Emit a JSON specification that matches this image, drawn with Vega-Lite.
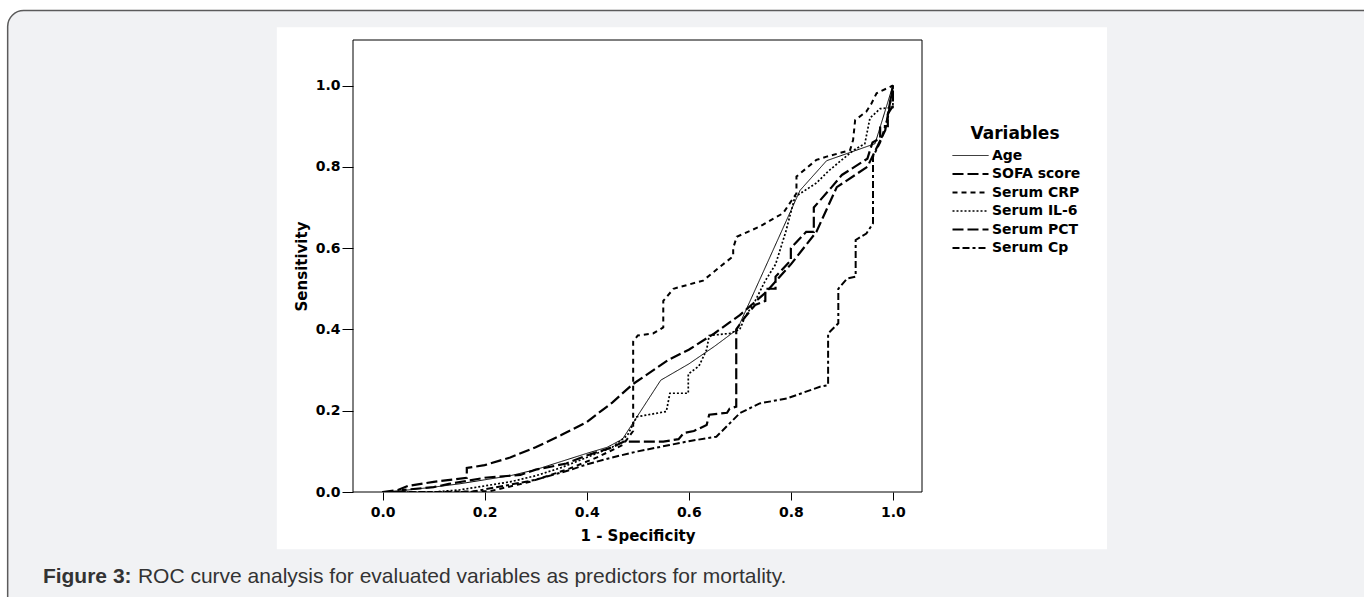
{
  "$schema": "https://vega.github.io/schema/vega-lite/v6.json",
  "width": 569,
  "height": 452,
  "autosize": {"type": "none"},
  "padding": {"left": 353, "top": 40, "right": 442, "bottom": 105},
  "background": "white",
  "config": {"view": {"stroke": null, "fill": null}, "font": "DejaVu Sans"},
  "datasets": {
    "roc": [
      {"variable": "Age", "i": 0, "x": 0, "y": 0},
      {"variable": "Age", "i": 1, "x": 0.05, "y": 0.005},
      {"variable": "Age", "i": 2, "x": 0.1, "y": 0.012},
      {"variable": "Age", "i": 3, "x": 0.15, "y": 0.02},
      {"variable": "Age", "i": 4, "x": 0.2, "y": 0.03},
      {"variable": "Age", "i": 5, "x": 0.25, "y": 0.04},
      {"variable": "Age", "i": 6, "x": 0.3, "y": 0.055},
      {"variable": "Age", "i": 7, "x": 0.35, "y": 0.075},
      {"variable": "Age", "i": 8, "x": 0.4, "y": 0.095},
      {"variable": "Age", "i": 9, "x": 0.44, "y": 0.11},
      {"variable": "Age", "i": 10, "x": 0.47, "y": 0.13},
      {"variable": "Age", "i": 11, "x": 0.545, "y": 0.275},
      {"variable": "Age", "i": 12, "x": 0.6, "y": 0.315},
      {"variable": "Age", "i": 13, "x": 0.65, "y": 0.358},
      {"variable": "Age", "i": 14, "x": 0.695, "y": 0.4},
      {"variable": "Age", "i": 15, "x": 0.818, "y": 0.742},
      {"variable": "Age", "i": 16, "x": 0.87, "y": 0.815},
      {"variable": "Age", "i": 17, "x": 0.965, "y": 0.857},
      {"variable": "Age", "i": 18, "x": 1, "y": 1},

      {"variable": "SOFA score", "i": 0, "x": 0, "y": 0},
      {"variable": "SOFA score", "i": 1, "x": 0.04, "y": 0},
      {"variable": "SOFA score", "i": 2, "x": 0.04, "y": 0.005},
      {"variable": "SOFA score", "i": 3, "x": 0.1, "y": 0.012},
      {"variable": "SOFA score", "i": 4, "x": 0.13, "y": 0.02},
      {"variable": "SOFA score", "i": 5, "x": 0.2, "y": 0.035},
      {"variable": "SOFA score", "i": 6, "x": 0.27, "y": 0.042},
      {"variable": "SOFA score", "i": 7, "x": 0.3, "y": 0.055},
      {"variable": "SOFA score", "i": 8, "x": 0.36, "y": 0.07},
      {"variable": "SOFA score", "i": 9, "x": 0.4, "y": 0.09},
      {"variable": "SOFA score", "i": 10, "x": 0.45, "y": 0.11},
      {"variable": "SOFA score", "i": 11, "x": 0.473, "y": 0.124},
      {"variable": "SOFA score", "i": 12, "x": 0.55, "y": 0.124},
      {"variable": "SOFA score", "i": 13, "x": 0.58, "y": 0.13},
      {"variable": "SOFA score", "i": 14, "x": 0.59, "y": 0.145},
      {"variable": "SOFA score", "i": 15, "x": 0.61, "y": 0.15},
      {"variable": "SOFA score", "i": 16, "x": 0.635, "y": 0.165},
      {"variable": "SOFA score", "i": 17, "x": 0.64, "y": 0.19},
      {"variable": "SOFA score", "i": 18, "x": 0.675, "y": 0.195},
      {"variable": "SOFA score", "i": 19, "x": 0.68, "y": 0.205},
      {"variable": "SOFA score", "i": 20, "x": 0.693, "y": 0.21},
      {"variable": "SOFA score", "i": 21, "x": 0.693, "y": 0.4},
      {"variable": "SOFA score", "i": 22, "x": 0.71, "y": 0.43},
      {"variable": "SOFA score", "i": 23, "x": 0.73, "y": 0.46},
      {"variable": "SOFA score", "i": 24, "x": 0.75, "y": 0.47},
      {"variable": "SOFA score", "i": 25, "x": 0.75, "y": 0.5},
      {"variable": "SOFA score", "i": 26, "x": 0.77, "y": 0.5},
      {"variable": "SOFA score", "i": 27, "x": 0.77, "y": 0.53},
      {"variable": "SOFA score", "i": 28, "x": 0.8, "y": 0.57},
      {"variable": "SOFA score", "i": 29, "x": 0.8, "y": 0.6},
      {"variable": "SOFA score", "i": 30, "x": 0.83, "y": 0.64},
      {"variable": "SOFA score", "i": 31, "x": 0.845, "y": 0.64},
      {"variable": "SOFA score", "i": 32, "x": 0.845, "y": 0.7},
      {"variable": "SOFA score", "i": 33, "x": 0.88, "y": 0.75},
      {"variable": "SOFA score", "i": 34, "x": 0.9, "y": 0.78},
      {"variable": "SOFA score", "i": 35, "x": 0.95, "y": 0.82},
      {"variable": "SOFA score", "i": 36, "x": 0.96, "y": 0.86},
      {"variable": "SOFA score", "i": 37, "x": 0.975, "y": 0.87},
      {"variable": "SOFA score", "i": 38, "x": 0.975, "y": 0.9},
      {"variable": "SOFA score", "i": 39, "x": 0.99, "y": 0.9},
      {"variable": "SOFA score", "i": 40, "x": 0.99, "y": 0.93},
      {"variable": "SOFA score", "i": 41, "x": 1, "y": 0.95},
      {"variable": "SOFA score", "i": 42, "x": 1, "y": 1},

      {"variable": "Serum CRP", "i": 0, "x": 0, "y": 0},
      {"variable": "Serum CRP", "i": 1, "x": 0.1, "y": 0},
      {"variable": "Serum CRP", "i": 2, "x": 0.21, "y": 0.002},
      {"variable": "Serum CRP", "i": 3, "x": 0.289, "y": 0.025},
      {"variable": "Serum CRP", "i": 4, "x": 0.367, "y": 0.058},
      {"variable": "Serum CRP", "i": 5, "x": 0.42, "y": 0.085},
      {"variable": "Serum CRP", "i": 6, "x": 0.471, "y": 0.116},
      {"variable": "Serum CRP", "i": 7, "x": 0.491, "y": 0.15},
      {"variable": "Serum CRP", "i": 8, "x": 0.491, "y": 0.37},
      {"variable": "Serum CRP", "i": 9, "x": 0.5, "y": 0.385},
      {"variable": "Serum CRP", "i": 10, "x": 0.53, "y": 0.39},
      {"variable": "Serum CRP", "i": 11, "x": 0.55, "y": 0.405},
      {"variable": "Serum CRP", "i": 12, "x": 0.55, "y": 0.47},
      {"variable": "Serum CRP", "i": 13, "x": 0.57, "y": 0.5},
      {"variable": "Serum CRP", "i": 14, "x": 0.628, "y": 0.52},
      {"variable": "Serum CRP", "i": 15, "x": 0.661, "y": 0.554},
      {"variable": "Serum CRP", "i": 16, "x": 0.687, "y": 0.58},
      {"variable": "Serum CRP", "i": 17, "x": 0.687, "y": 0.6},
      {"variable": "Serum CRP", "i": 18, "x": 0.694, "y": 0.628},
      {"variable": "Serum CRP", "i": 19, "x": 0.739, "y": 0.653},
      {"variable": "Serum CRP", "i": 20, "x": 0.785, "y": 0.686},
      {"variable": "Serum CRP", "i": 21, "x": 0.811, "y": 0.735},
      {"variable": "Serum CRP", "i": 22, "x": 0.811, "y": 0.776},
      {"variable": "Serum CRP", "i": 23, "x": 0.85, "y": 0.817},
      {"variable": "Serum CRP", "i": 24, "x": 0.87, "y": 0.825},
      {"variable": "Serum CRP", "i": 25, "x": 0.916, "y": 0.841},
      {"variable": "Serum CRP", "i": 26, "x": 0.922, "y": 0.866},
      {"variable": "Serum CRP", "i": 27, "x": 0.926, "y": 0.915},
      {"variable": "Serum CRP", "i": 28, "x": 0.948, "y": 0.936},
      {"variable": "Serum CRP", "i": 29, "x": 0.958, "y": 0.956},
      {"variable": "Serum CRP", "i": 30, "x": 0.968, "y": 0.981},
      {"variable": "Serum CRP", "i": 31, "x": 1, "y": 1},

      {"variable": "Serum IL-6", "i": 0, "x": 0, "y": 0},
      {"variable": "Serum IL-6", "i": 1, "x": 0.1, "y": 0},
      {"variable": "Serum IL-6", "i": 2, "x": 0.15, "y": 0.005},
      {"variable": "Serum IL-6", "i": 3, "x": 0.2, "y": 0.015},
      {"variable": "Serum IL-6", "i": 4, "x": 0.25, "y": 0.025},
      {"variable": "Serum IL-6", "i": 5, "x": 0.3, "y": 0.04},
      {"variable": "Serum IL-6", "i": 6, "x": 0.35, "y": 0.06},
      {"variable": "Serum IL-6", "i": 7, "x": 0.4, "y": 0.085},
      {"variable": "Serum IL-6", "i": 8, "x": 0.45, "y": 0.11},
      {"variable": "Serum IL-6", "i": 9, "x": 0.48, "y": 0.14},
      {"variable": "Serum IL-6", "i": 10, "x": 0.498, "y": 0.185},
      {"variable": "Serum IL-6", "i": 11, "x": 0.556, "y": 0.198},
      {"variable": "Serum IL-6", "i": 12, "x": 0.563, "y": 0.243},
      {"variable": "Serum IL-6", "i": 13, "x": 0.599, "y": 0.243},
      {"variable": "Serum IL-6", "i": 14, "x": 0.599, "y": 0.29},
      {"variable": "Serum IL-6", "i": 15, "x": 0.62, "y": 0.31},
      {"variable": "Serum IL-6", "i": 16, "x": 0.635, "y": 0.35},
      {"variable": "Serum IL-6", "i": 17, "x": 0.64, "y": 0.385},
      {"variable": "Serum IL-6", "i": 18, "x": 0.68, "y": 0.39},
      {"variable": "Serum IL-6", "i": 19, "x": 0.7, "y": 0.4},
      {"variable": "Serum IL-6", "i": 20, "x": 0.71, "y": 0.43},
      {"variable": "Serum IL-6", "i": 21, "x": 0.73, "y": 0.47},
      {"variable": "Serum IL-6", "i": 22, "x": 0.75, "y": 0.52},
      {"variable": "Serum IL-6", "i": 23, "x": 0.77, "y": 0.56},
      {"variable": "Serum IL-6", "i": 24, "x": 0.78, "y": 0.6},
      {"variable": "Serum IL-6", "i": 25, "x": 0.79, "y": 0.64},
      {"variable": "Serum IL-6", "i": 26, "x": 0.808, "y": 0.726},
      {"variable": "Serum IL-6", "i": 27, "x": 0.85, "y": 0.76},
      {"variable": "Serum IL-6", "i": 28, "x": 0.874, "y": 0.79},
      {"variable": "Serum IL-6", "i": 29, "x": 0.922, "y": 0.84},
      {"variable": "Serum IL-6", "i": 30, "x": 0.945, "y": 0.857},
      {"variable": "Serum IL-6", "i": 31, "x": 0.955, "y": 0.92},
      {"variable": "Serum IL-6", "i": 32, "x": 0.975, "y": 0.943},
      {"variable": "Serum IL-6", "i": 33, "x": 1, "y": 0.946},
      {"variable": "Serum IL-6", "i": 34, "x": 1, "y": 1},

      {"variable": "Serum PCT", "i": 0, "x": 0, "y": 0},
      {"variable": "Serum PCT", "i": 1, "x": 0.03, "y": 0.005},
      {"variable": "Serum PCT", "i": 2, "x": 0.05, "y": 0.015},
      {"variable": "Serum PCT", "i": 3, "x": 0.1, "y": 0.025},
      {"variable": "Serum PCT", "i": 4, "x": 0.165, "y": 0.035},
      {"variable": "Serum PCT", "i": 5, "x": 0.165, "y": 0.059},
      {"variable": "Serum PCT", "i": 6, "x": 0.2, "y": 0.066},
      {"variable": "Serum PCT", "i": 7, "x": 0.25, "y": 0.085},
      {"variable": "Serum PCT", "i": 8, "x": 0.3, "y": 0.11},
      {"variable": "Serum PCT", "i": 9, "x": 0.35, "y": 0.14},
      {"variable": "Serum PCT", "i": 10, "x": 0.4, "y": 0.172},
      {"variable": "Serum PCT", "i": 11, "x": 0.45, "y": 0.22},
      {"variable": "Serum PCT", "i": 12, "x": 0.49, "y": 0.265},
      {"variable": "Serum PCT", "i": 13, "x": 0.56, "y": 0.325},
      {"variable": "Serum PCT", "i": 14, "x": 0.6, "y": 0.35},
      {"variable": "Serum PCT", "i": 15, "x": 0.65, "y": 0.39},
      {"variable": "Serum PCT", "i": 16, "x": 0.7, "y": 0.435},
      {"variable": "Serum PCT", "i": 17, "x": 0.75, "y": 0.49},
      {"variable": "Serum PCT", "i": 18, "x": 0.8, "y": 0.56},
      {"variable": "Serum PCT", "i": 19, "x": 0.85, "y": 0.64},
      {"variable": "Serum PCT", "i": 20, "x": 0.89, "y": 0.75},
      {"variable": "Serum PCT", "i": 21, "x": 0.95, "y": 0.8},
      {"variable": "Serum PCT", "i": 22, "x": 0.985, "y": 0.89},
      {"variable": "Serum PCT", "i": 23, "x": 1, "y": 1},

      {"variable": "Serum Cp", "i": 0, "x": 0, "y": 0},
      {"variable": "Serum Cp", "i": 1, "x": 0.172, "y": 0},
      {"variable": "Serum Cp", "i": 2, "x": 0.25, "y": 0.018},
      {"variable": "Serum Cp", "i": 3, "x": 0.3, "y": 0.03},
      {"variable": "Serum Cp", "i": 4, "x": 0.367, "y": 0.054},
      {"variable": "Serum Cp", "i": 5, "x": 0.4, "y": 0.068},
      {"variable": "Serum Cp", "i": 6, "x": 0.45, "y": 0.085},
      {"variable": "Serum Cp", "i": 7, "x": 0.5, "y": 0.1},
      {"variable": "Serum Cp", "i": 8, "x": 0.56, "y": 0.115},
      {"variable": "Serum Cp", "i": 9, "x": 0.6, "y": 0.125},
      {"variable": "Serum Cp", "i": 10, "x": 0.654, "y": 0.136},
      {"variable": "Serum Cp", "i": 11, "x": 0.674, "y": 0.161},
      {"variable": "Serum Cp", "i": 12, "x": 0.7, "y": 0.194},
      {"variable": "Serum Cp", "i": 13, "x": 0.739, "y": 0.218},
      {"variable": "Serum Cp", "i": 14, "x": 0.792, "y": 0.23},
      {"variable": "Serum Cp", "i": 15, "x": 0.857, "y": 0.259},
      {"variable": "Serum Cp", "i": 16, "x": 0.873, "y": 0.263},
      {"variable": "Serum Cp", "i": 17, "x": 0.873, "y": 0.39},
      {"variable": "Serum Cp", "i": 18, "x": 0.893, "y": 0.415},
      {"variable": "Serum Cp", "i": 19, "x": 0.893, "y": 0.5},
      {"variable": "Serum Cp", "i": 20, "x": 0.91, "y": 0.525},
      {"variable": "Serum Cp", "i": 21, "x": 0.927, "y": 0.53},
      {"variable": "Serum Cp", "i": 22, "x": 0.927, "y": 0.62},
      {"variable": "Serum Cp", "i": 23, "x": 0.948, "y": 0.636},
      {"variable": "Serum Cp", "i": 24, "x": 0.961, "y": 0.661},
      {"variable": "Serum Cp", "i": 25, "x": 0.961, "y": 0.825},
      {"variable": "Serum Cp", "i": 26, "x": 0.975, "y": 0.86},
      {"variable": "Serum Cp", "i": 27, "x": 0.99, "y": 0.92},
      {"variable": "Serum Cp", "i": 28, "x": 1, "y": 1}
    ]
  },
  "layer": [
    {
      "data": {"values": [{}]},
      "mark": {"type": "rect", "fill": "#f1f2f4", "stroke": "#5b5b5b", "strokeWidth": 1.5, "cornerRadius": 16, "clip": false},
      "encoding": {
        "x": {"datum": -0.7347, "type": "quantitative"},
        "x2": {"datum": 2.0},
        "y": {"datum": 1.1843, "type": "quantitative"},
        "y2": {"datum": -0.35}
      }
    },
    {
      "data": {"values": [{}]},
      "mark": {"type": "rect", "fill": "white", "clip": false},
      "encoding": {
        "x": {"datum": -0.2073, "type": "quantitative"},
        "x2": {"datum": 1.4196},
        "y": {"datum": 1.1432, "type": "quantitative"},
        "y2": {"datum": -0.1408}
      }
    },
    {
      "data": {"values": [{}]},
      "mark": {"type": "rect", "fill": null, "stroke": "black", "strokeWidth": 1, "clip": false},
      "encoding": {
        "x": {"datum": -0.058, "type": "quantitative"},
        "x2": {"datum": 1.057},
        "y": {"datum": 0, "type": "quantitative"},
        "y2": {"datum": 1.112}
      }
    },
    {
      "data": {"name": "roc"},
      "mark": {"type": "line", "color": "black", "strokeCap": "butt", "clip": true},
      "encoding": {
        "x": {
          "field": "x", "type": "quantitative",
          "scale": {"domain": [-0.058, 1.057], "nice": false, "zero": false},
          "axis": {
            "title": "1 - Specificity", "values": [0, 0.2, 0.4, 0.6, 0.8, 1.0], "format": ".1f",
            "domain": false, "grid": false, "zindex": 1,
            "tickSize": 8, "tickColor": "black", "tickWidth": 1,
            "labelFont": "DejaVu Sans", "labelFontSize": 14, "labelFontWeight": "bold", "labelColor": "black", "labelPadding": 5,
            "titleFont": "DejaVu Sans", "titleFontSize": 15, "titleFontWeight": "bold", "titleColor": "black", "titlePadding": 9
          }
        },
        "y": {
          "field": "y", "type": "quantitative",
          "scale": {"domain": [0, 1.112], "nice": false, "zero": false},
          "axis": {
            "title": "Sensitivity", "values": [0, 0.2, 0.4, 0.6, 0.8, 1.0], "format": ".1f",
            "domain": false, "grid": false, "zindex": 1,
            "tickSize": 11, "tickColor": "black", "tickWidth": 1,
            "labelFont": "DejaVu Sans", "labelFontSize": 14, "labelFontWeight": "bold", "labelColor": "black", "labelPadding": 2,
            "titleFont": "DejaVu Sans", "titleFontSize": 15, "titleFontWeight": "bold", "titleColor": "black", "titlePadding": 6
          }
        },
        "order": {"field": "i", "type": "quantitative"},
        "strokeDash": {
          "field": "variable", "type": "nominal",
          "scale": {
            "domain": ["Age", "SOFA score", "Serum CRP", "Serum IL-6", "Serum PCT", "Serum Cp"],
            "range": [[1, 0], [11, 4], [5, 4], [2, 2], [11, 4], [7, 3, 7, 3, 3, 3]]
          },
          "legend": {
            "title": "Variables", "orient": "none", "legendX": 597, "legendY": 85.5, "zindex": 1,
            "symbolType": "M-1,0H7", "symbolSize": 81, "symbolStrokeColor": "black", "symbolFillColor": null,
            "labelOffset": 28, "labelFont": "DejaVu Sans", "labelFontSize": 14, "labelFontWeight": "bold", "labelColor": "black",
            "titleFont": "DejaVu Sans", "titleFontSize": 17, "titleFontWeight": "bold", "titleColor": "black",
            "titleAnchor": "middle", "titlePadding": 6, "rowPadding": 4.5
          }
        },
        "strokeWidth": {
          "field": "variable", "type": "nominal",
          "scale": {
            "type": "ordinal",
            "domain": ["Age", "SOFA score", "Serum CRP", "Serum IL-6", "Serum PCT", "Serum Cp"],
            "range": [1, 2.2, 2, 1.7, 2.2, 2]
          },
          "legend": {
            "title": "Variables", "orient": "none", "legendX": 597, "legendY": 85.5, "zindex": 1,
            "symbolType": "M-1,0H7", "symbolSize": 81, "symbolStrokeColor": "black", "symbolFillColor": null,
            "labelOffset": 28, "labelFont": "DejaVu Sans", "labelFontSize": 14, "labelFontWeight": "bold", "labelColor": "black",
            "titleFont": "DejaVu Sans", "titleFontSize": 17, "titleFontWeight": "bold", "titleColor": "black",
            "titleAnchor": "middle", "titlePadding": 6, "rowPadding": 4.5
          }
        }
      }
    },
    {
      "data": {"values": [{"t": "Figure 3:"}]},
      "mark": {"type": "text", "align": "left", "baseline": "middle", "fontSize": 21, "fontWeight": "bold", "color": "#333333", "font": "Liberation Sans", "clip": false},
      "encoding": {
        "x": {"datum": -0.6657, "type": "quantitative"},
        "y": {"datum": -0.2091, "type": "quantitative"},
        "text": {"field": "t"}
      }
    },
    {
      "data": {"values": [{"t": "ROC curve analysis for evaluated variables as predictors for mortality."}]},
      "mark": {"type": "text", "align": "left", "baseline": "middle", "fontSize": 21, "color": "#333333", "font": "Liberation Sans", "clip": false},
      "encoding": {
        "x": {"datum": -0.4795, "type": "quantitative"},
        "y": {"datum": -0.2091, "type": "quantitative"},
        "text": {"field": "t"}
      }
    }
  ]
}
